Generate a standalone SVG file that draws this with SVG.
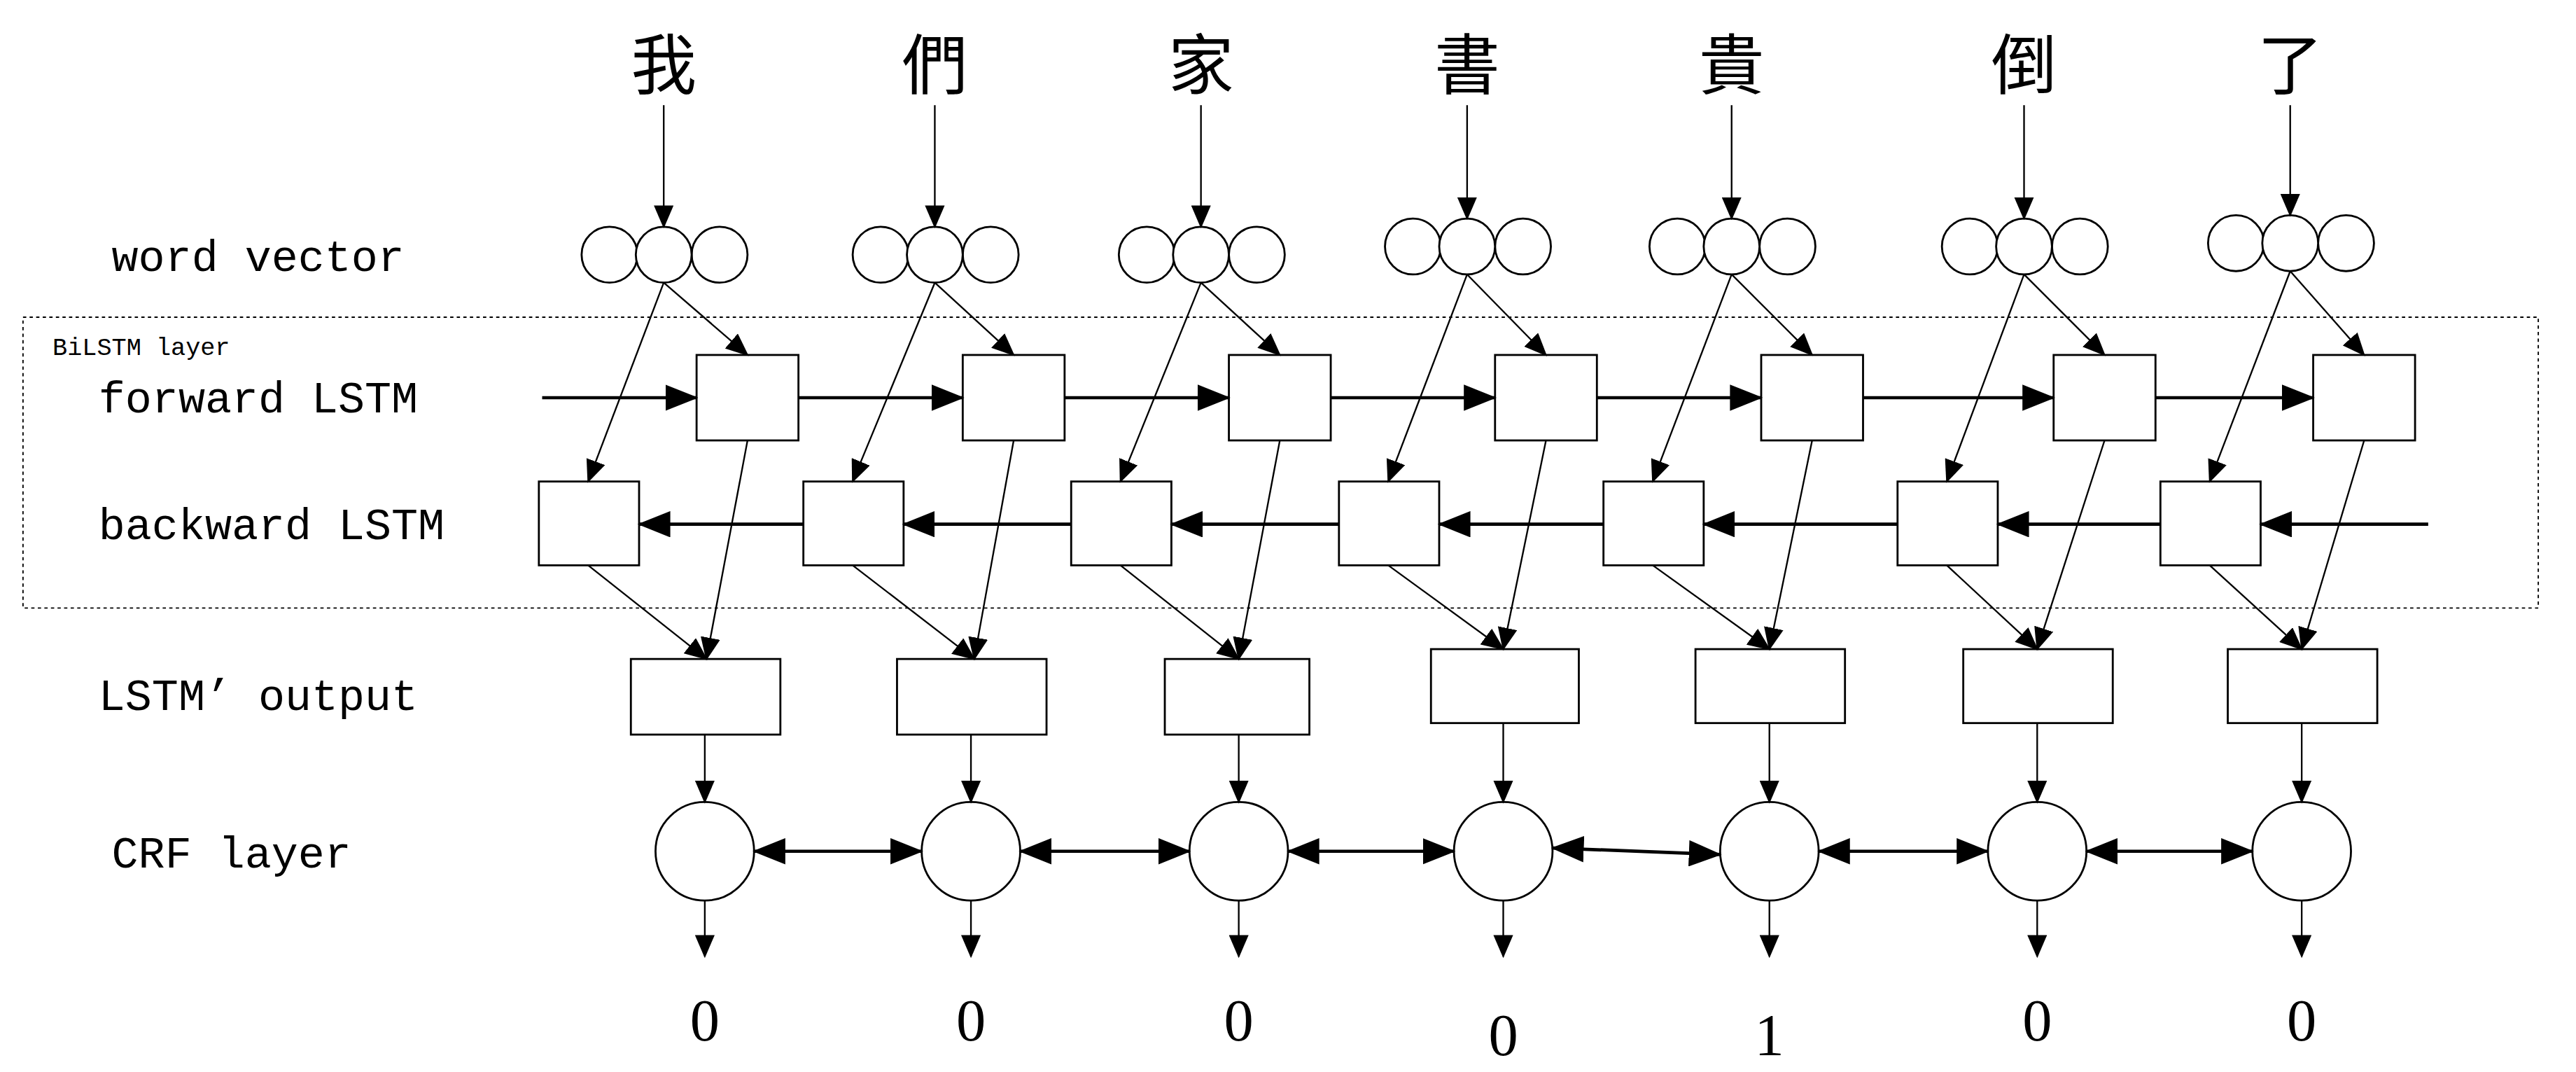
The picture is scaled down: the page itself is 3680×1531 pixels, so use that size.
<svg xmlns="http://www.w3.org/2000/svg" width="3680" height="1531" viewBox="0 0 3680 1531">
<defs>
<marker id="a" markerUnits="userSpaceOnUse" markerWidth="14" markerHeight="12" refX="13" refY="6" orient="auto-start-reverse"><path d="M0,0 L14,6 L0,12 z" fill="#000"/></marker>
<marker id="b" markerUnits="userSpaceOnUse" markerWidth="20" markerHeight="16" refX="19" refY="8" orient="auto-start-reverse"><path d="M0,0 L20,8 L0,16 z" fill="#000"/></marker>
<style>
.n{fill:#fff;stroke:#000;stroke-width:1.2}
.l{font-family:"Liberation Mono",monospace;font-size:27px;fill:#000}
.c{font-family:"Noto Sans CJK TC",serif;font-size:40px;text-anchor:middle}
.d{font-family:"Liberation Serif",serif;font-size:36px;text-anchor:middle}
.t line{stroke:#000;stroke-width:1;marker-end:url(#a)}
.h line{stroke:#000;stroke-width:2;marker-end:url(#b)}
.hh line{stroke:#000;stroke-width:2;marker-end:url(#b);marker-start:url(#b)}
</style>
</defs>
<rect width="3680" height="1531" fill="#fff"/>
<g transform="scale(2.347)">
<g id="labels">
<text class="l" x="68" y="165">word vector</text>
<text class="l" x="32" y="216" style="font-size:15px">BiLSTM layer</text>
<text class="l" x="60" y="251">forward LSTM</text>
<text class="l" x="60" y="328">backward LSTM</text>
<text class="l" x="60" y="432">LSTM’ output</text>
<text class="l" x="68" y="528">CRF layer</text>
<rect x="14" y="193" width="1531" height="177" fill="none" stroke="#000" stroke-width="0.8" stroke-dasharray="2,2"/>
</g>
<g id="chars">
<text class="c" x="404" y="54">我</text><text class="c" x="569" y="54">們</text><text class="c" x="731" y="54">家</text><text class="c" x="893" y="54">書</text><text class="c" x="1054" y="54">貴</text><text class="c" x="1232" y="54">倒</text><text class="c" x="1394" y="54">了</text>
</g>
<g id="vectors">
<g id="wv1"><circle class="n" cx="371" cy="155" r="17"/><circle class="n" cx="438" cy="155" r="17"/><circle class="n" cx="404" cy="155" r="17"/></g>
<g id="wv2"><circle class="n" cx="536" cy="155" r="17"/><circle class="n" cx="603" cy="155" r="17"/><circle class="n" cx="569" cy="155" r="17"/></g>
<g id="wv3"><circle class="n" cx="698" cy="155" r="17"/><circle class="n" cx="765" cy="155" r="17"/><circle class="n" cx="731" cy="155" r="17"/></g>
<g id="wv4"><circle class="n" cx="860" cy="150" r="17"/><circle class="n" cx="927" cy="150" r="17"/><circle class="n" cx="893" cy="150" r="17"/></g>
<g id="wv5"><circle class="n" cx="1021" cy="150" r="17"/><circle class="n" cx="1088" cy="150" r="17"/><circle class="n" cx="1054" cy="150" r="17"/></g>
<g id="wv6"><circle class="n" cx="1199" cy="150" r="17"/><circle class="n" cx="1266" cy="150" r="17"/><circle class="n" cx="1232" cy="150" r="17"/></g>
<g id="wv7"><circle class="n" cx="1361" cy="148" r="17"/><circle class="n" cx="1428" cy="148" r="17"/><circle class="n" cx="1394" cy="148" r="17"/></g>
</g>
<g id="forward">
<rect id="f1" class="n" x="424" y="216" width="62" height="52"/><rect id="f2" class="n" x="586" y="216" width="62" height="52"/><rect id="f3" class="n" x="748" y="216" width="62" height="52"/><rect id="f4" class="n" x="910" y="216" width="62" height="52"/><rect id="f5" class="n" x="1072" y="216" width="62" height="52"/><rect id="f6" class="n" x="1250" y="216" width="62" height="52"/><rect id="f7" class="n" x="1408" y="216" width="62" height="52"/>
</g>
<g id="backward">
<rect id="b1" class="n" x="328" y="293" width="61" height="51"/><rect id="b2" class="n" x="489" y="293" width="61" height="51"/><rect id="b3" class="n" x="652" y="293" width="61" height="51"/><rect id="b4" class="n" x="815" y="293" width="61" height="51"/><rect id="b5" class="n" x="976" y="293" width="61" height="51"/><rect id="b6" class="n" x="1155" y="293" width="61" height="51"/><rect id="b7" class="n" x="1315" y="293" width="61" height="51"/>
</g>
<g id="outputs">
<rect id="o1" class="n" x="384" y="401" width="91" height="46"/><rect id="o2" class="n" x="546" y="401" width="91" height="46"/><rect id="o3" class="n" x="709" y="401" width="88" height="46"/><rect id="o4" class="n" x="871" y="395" width="90" height="45"/><rect id="o5" class="n" x="1032" y="395" width="91" height="45"/><rect id="o6" class="n" x="1195" y="395" width="91" height="45"/><rect id="o7" class="n" x="1356" y="395" width="91" height="45"/>
</g>
<g id="crf">
<circle class="n" cx="429" cy="518" r="30"/><circle class="n" cx="591" cy="518" r="30"/><circle class="n" cx="754" cy="518" r="30"/><circle class="n" cx="915" cy="518" r="30"/><circle class="n" cx="1077" cy="518" r="30"/><circle class="n" cx="1240" cy="518" r="30"/><circle class="n" cx="1401" cy="518" r="30"/>
</g>
<g id="results">
<text class="d" x="429" y="633">0</text><text class="d" x="591" y="633">0</text><text class="d" x="754" y="633">0</text><text class="d" x="915" y="642">0</text><text class="d" x="1077" y="642">1</text><text class="d" x="1240" y="633">0</text><text class="d" x="1401" y="633">0</text>
</g>
<g id="connectors">
<g class="t">
<line x1="404" y1="64" x2="404" y2="138"/><line x1="569" y1="64" x2="569" y2="138"/><line x1="731" y1="64" x2="731" y2="138"/><line x1="893" y1="64" x2="893" y2="133"/><line x1="1054" y1="64" x2="1054" y2="133"/><line x1="1232" y1="64" x2="1232" y2="133"/><line x1="1394" y1="64" x2="1394" y2="131"/>
<line x1="404" y1="172" x2="455" y2="216"/><line x1="404" y1="172" x2="358" y2="293"/>
<line x1="569" y1="172" x2="617" y2="216"/><line x1="569" y1="172" x2="519" y2="293"/>
<line x1="731" y1="172" x2="779" y2="216"/><line x1="731" y1="172" x2="682" y2="293"/>
<line x1="893" y1="167" x2="941" y2="216"/><line x1="893" y1="167" x2="845" y2="293"/>
<line x1="1054" y1="167" x2="1103" y2="216"/><line x1="1054" y1="167" x2="1006" y2="293"/>
<line x1="1232" y1="167" x2="1281" y2="216"/><line x1="1232" y1="167" x2="1185" y2="293"/>
<line x1="1394" y1="165" x2="1439" y2="216"/><line x1="1394" y1="165" x2="1345" y2="293"/>
<line x1="455" y1="268" x2="430" y2="401"/><line x1="358" y1="344" x2="430" y2="401"/>
<line x1="617" y1="268" x2="593" y2="401"/><line x1="519" y1="344" x2="593" y2="401"/>
<line x1="779" y1="268" x2="754" y2="401"/><line x1="682" y1="344" x2="754" y2="401"/>
<line x1="941" y1="268" x2="915" y2="395"/><line x1="845" y1="344" x2="915" y2="395"/>
<line x1="1103" y1="268" x2="1077" y2="395"/><line x1="1006" y1="344" x2="1077" y2="395"/>
<line x1="1281" y1="268" x2="1240" y2="395"/><line x1="1185" y1="344" x2="1240" y2="395"/>
<line x1="1439" y1="268" x2="1401" y2="395"/><line x1="1345" y1="344" x2="1401" y2="395"/>
<line x1="429" y1="447" x2="429" y2="488"/><line x1="591" y1="447" x2="591" y2="488"/><line x1="754" y1="447" x2="754" y2="488"/><line x1="915" y1="440" x2="915" y2="488"/><line x1="1077" y1="440" x2="1077" y2="488"/><line x1="1240" y1="440" x2="1240" y2="488"/><line x1="1401" y1="440" x2="1401" y2="488"/>
<line x1="429" y1="548" x2="429" y2="582"/><line x1="591" y1="548" x2="591" y2="582"/><line x1="754" y1="548" x2="754" y2="582"/><line x1="915" y1="548" x2="915" y2="582"/><line x1="1077" y1="548" x2="1077" y2="582"/><line x1="1240" y1="548" x2="1240" y2="582"/><line x1="1401" y1="548" x2="1401" y2="582"/>
</g>
<g class="h">
<line x1="330" y1="242" x2="424" y2="242"/><line x1="486" y1="242" x2="586" y2="242"/><line x1="648" y1="242" x2="748" y2="242"/><line x1="810" y1="242" x2="910" y2="242"/><line x1="972" y1="242" x2="1072" y2="242"/><line x1="1134" y1="242" x2="1250" y2="242"/><line x1="1312" y1="242" x2="1408" y2="242"/>
<line x1="1478" y1="319" x2="1376" y2="319"/><line x1="1315" y1="319" x2="1216" y2="319"/><line x1="1155" y1="319" x2="1037" y2="319"/><line x1="976" y1="319" x2="876" y2="319"/><line x1="815" y1="319" x2="713" y2="319"/><line x1="652" y1="319" x2="550" y2="319"/><line x1="489" y1="319" x2="389" y2="319"/>
</g>
<g class="hh">
<line x1="459" y1="518" x2="561" y2="518"/><line x1="621" y1="518" x2="724" y2="518"/><line x1="784" y1="518" x2="885" y2="518"/><line x1="945" y1="516" x2="1047" y2="520"/><line x1="1107" y1="518" x2="1210" y2="518"/><line x1="1270" y1="518" x2="1371" y2="518"/>
</g>
</g>
</g>
</svg>
